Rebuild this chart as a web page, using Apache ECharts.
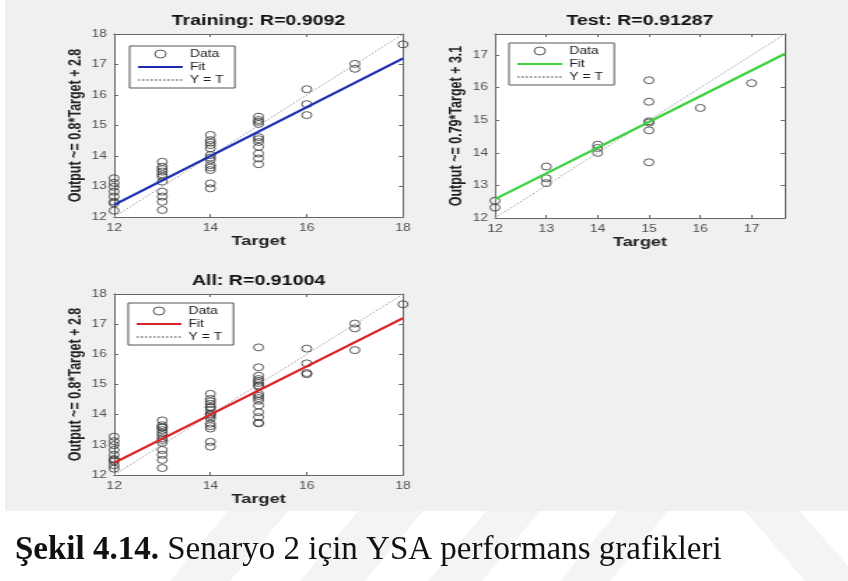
<!DOCTYPE html>
<html>
<head>
<meta charset="utf-8">
<script src="https://cdn.jsdelivr.net/npm/echarts@6/dist/echarts.min.js"></script>
<style>
  html, body { margin: 0; padding: 0; background: #fff; width: 848px; height: 581px; overflow: hidden; }
  #page { position: absolute; left: 0; top: 0; width: 848px; height: 581px; }
  /* the figure panel is drawn narrow and widened, like the exported bitmap */
  #fig { position: absolute; left: 5px; top: 0; width: 602px; height: 511px;
         transform: scaleX(1.4); transform-origin: 0 0; }
</style>
</head>
<body>
<div id="page"></div>
<div id="fig"></div>
<script>
// ---- data -------------------------------------------------------------
// Training set: targets and network outputs
const trainTarget = [
  12, 12, 12, 12, 12, 12, 12, 12,
  13, 13, 13, 13, 13, 13, 13, 13, 13, 13, 13,
  14, 14, 14, 14, 14, 14, 14, 14, 14, 14, 14, 14, 14,
  15, 15, 15, 15, 15, 15, 15, 15, 15, 15, 15,
  16, 16, 16,
  17, 17,
  18
];
const trainOutput = [
  12.21, 12.45, 12.50, 12.67, 12.83, 12.99, 13.12, 13.27,
  12.23, 12.50, 12.67, 12.83, 13.16, 13.32, 13.40, 13.49, 13.57, 13.65, 13.81,
  12.94, 13.10, 13.54, 13.62, 13.70, 13.87, 13.95, 14.03, 14.25, 14.36, 14.44, 14.52, 14.69,
  13.73, 13.92, 14.08, 14.30, 14.46, 14.55, 14.62, 15.05, 15.12, 15.18, 15.29,
  15.34, 15.70, 16.19,
  16.86, 17.02,
  17.66
];
// Test set
const testTarget = [12, 12, 13, 13, 13, 14, 14, 14, 15, 15, 15, 15, 15, 15, 16, 17];
const testOutput = [12.32, 12.53, 13.07, 13.22, 13.58, 14.00, 14.15, 14.25,
                    13.71, 14.69, 14.93, 14.97, 15.57, 16.23, 15.38, 16.14];
// All samples
const allTarget = trainTarget.concat(testTarget);
const allOutput = trainOutput.concat(testOutput);

const panelNames   = ['Training', 'Test', 'All'];
const panelR       = ['0.9092', '0.91287', '0.91004'];
const fitSlopes    = [0.8, 0.79, 0.8];
const fitIntercepts= [2.8, 3.1, 2.8];
const axisMins     = [12, 12, 12];
const axisMaxes    = [18, 17.65, 18];
const xTickSteps   = [2, 1, 2];
const yTickSteps   = [1, 1, 1];
const legendLabels = ['Data', 'Fit', 'Y = T'];
const xAxisTitle   = 'Target';
const captionBold  = 'Şekil 4.14.';
const captionText  = ' Senaryo 2 için YSA performans grafikleri';

const panelTargets = [trainTarget, testTarget, allTarget];
const panelOutputs = [trainOutput, testOutput, allOutput];

// ---- layout & style ----------------------------------------------------
const FONT = '"Liberation Sans", Arial, sans-serif';
const fitColors = ['#1f2db4', '#3fd23f', '#d82424'];
const grids = [
  { left: 77.9, top: 34,  width: 206.4, height: 183 },
  { left: 350,  top: 34,  width: 207.1, height: 184 },
  { left: 77.9, top: 294, width: 206.4, height: 181 }
];
const legendPos = [
  { left: 89,  top: 46 },
  { left: 360, top: 43 },
  { left: 88,  top: 303 }
];

const tickFmt = v => (Math.abs(v - Math.round(v)) < 1e-9 ? String(Math.round(v)) : '');

function axisBase(i, step, min, max) {
  return {
    type: 'value', gridIndex: i, min: min, max: max, interval: step,
    axisLine: { show: true, onZero: false, lineStyle: { color: '#666', width: 1 } },
    axisTick: { show: true, inside: true, length: 3, lineStyle: { color: '#666', width: 1 } },
    splitLine: { show: false },
    axisLabel: { show: false }
  };
}

const option = {
  animation: false,
  backgroundColor: 'transparent',
  title: [], grid: [], xAxis: [], yAxis: [], legend: [], series: []
};

for (let i = 0; i < 3; i++) {
  const g = grids[i];
  const lo = axisMins[i], hi = axisMaxes[i];
  const a = fitSlopes[i], b = fitIntercepts[i];

  option.grid.push({ left: g.left, top: g.top, width: g.width, height: g.height,
                     show: true, backgroundColor: '#fff', borderWidth: 0 });

  option.title.push({
    text: panelNames[i] + ': R=' + panelR[i],
    left: g.left + g.width / 2, top: g.top - 20, textAlign: 'center', padding: 0,
    textStyle: { fontFamily: FONT, fontSize: 14, fontWeight: 'bold', color: '#111' }
  });

  // bottom / left axes carry labels; top / right only close the box
  const xb = axisBase(i, xTickSteps[i], lo, hi);
  xb.position = 'bottom';
  xb.axisLabel = { show: true, color: '#505050', fontSize: 10, fontFamily: FONT, margin: 6, formatter: tickFmt };
  xb.name = xAxisTitle; xb.nameLocation = 'middle'; xb.nameGap = 18;
  xb.nameTextStyle = { fontFamily: FONT, fontSize: 13, fontWeight: 'bold', color: '#222' };
  const xt = axisBase(i, xTickSteps[i], lo, hi); xt.position = 'top';

  const yl = axisBase(i, yTickSteps[i], lo, hi);
  yl.position = 'left';
  yl.axisLabel = { show: true, color: '#505050', fontSize: 10, fontFamily: FONT, margin: 5, formatter: tickFmt };
  yl.name = 'Output ~= ' + a + '*Target + ' + b;
  yl.nameLocation = 'middle'; yl.nameGap = 21;
  yl.nameTextStyle = { fontFamily: FONT, fontSize: 12.5, fontWeight: 'bold', color: '#222' };
  const yr = axisBase(i, yTickSteps[i], lo, hi); yr.position = 'right';

  option.xAxis.push(xb, xt);
  option.yAxis.push(yl, yr);

  const names = legendLabels.map(s => s + '#' + i);

  option.series.push({
    name: names[0], type: 'scatter', xAxisIndex: 2 * i, yAxisIndex: 2 * i,
    symbol: 'circle', symbolSize: 7,
    itemStyle: { color: 'rgba(0,0,0,0)', borderColor: '#333', borderWidth: 1 },
    data: panelTargets[i].map((t, k) => [t, panelOutputs[i][k]]), z: 2
  });
  option.series.push({
    name: names[1], type: 'line', xAxisIndex: 2 * i, yAxisIndex: 2 * i,
    symbol: 'none', lineStyle: { color: fitColors[i], width: 2.2 }, itemStyle: { color: fitColors[i] },
    data: [[lo, a * lo + b], [hi, a * hi + b]], z: 4
  });
  option.series.push({
    name: names[2], type: 'line', xAxisIndex: 2 * i, yAxisIndex: 2 * i,
    symbol: 'none', lineStyle: { color: '#9a9a9a', width: 1, type: [1.5, 1.5] }, itemStyle: { color: '#9a9a9a' },
    data: [[lo, lo], [hi, hi]], z: 3
  });

  option.legend.push({
    data: [
      { name: names[0], itemStyle: { color: 'rgba(0,0,0,0)', borderColor: '#333', borderWidth: 1 } },
      { name: names[1], itemStyle: { opacity: 0 } },
      { name: names[2], itemStyle: { opacity: 0 } }
    ],
    left: legendPos[i].left, top: legendPos[i].top, orient: 'vertical',
    itemWidth: 32, itemHeight: 8, itemGap: 1, padding: [2, 8, 2, 5],
    borderColor: '#555', borderWidth: 1, backgroundColor: '#fff',
    selectedMode: false, formatter: n => n.split('#')[0],
    textStyle: { fontFamily: FONT, fontSize: 10, lineHeight: 12, color: '#222' }
  });
}

const fig = echarts.init(document.getElementById('fig'), null, { renderer: 'canvas' });
fig.setOption(option);

// ---- page: figure backdrop, faint watermark bands, caption ----------------
const bands = [
  [[170, 581], [230, 581], [288, 511], [228, 511]],
  [[300, 581], [365, 581], [423, 511], [358, 511]],
  [[428, 581], [482, 581], [540, 511], [486, 511]],
  [[560, 581], [610, 581], [668, 511], [618, 511]],
  [[745, 511], [800, 511], [848, 566], [848, 581], [805, 581]]
];
const page = echarts.init(document.getElementById('page'), null, { renderer: 'canvas' });
page.setOption({
  animation: false,
  graphic: [
    ...bands.map(p => ({ type: 'polygon', shape: { points: p }, style: { fill: '#f4f4f4' }, z: 0 })),
    { type: 'rect', shape: { x: 5, y: 0, width: 843, height: 511 }, style: { fill: '#f0f0f0' }, z: 1 },
    {
      type: 'text', z: 2,
      style: {
        x: 15, y: 550, verticalAlign: 'middle', align: 'left',
        text: '{b|' + captionBold + '}{r|' + captionText + '}',
        rich: {
          b: { fontFamily: '"Liberation Serif", "Times New Roman", serif', fontSize: 33, fontWeight: 'bold', fill: '#111' },
          r: { fontFamily: '"Liberation Serif", "Times New Roman", serif', fontSize: 33, fill: '#111' }
        }
      }
    }
  ]
});
</script>
</body>
</html>
